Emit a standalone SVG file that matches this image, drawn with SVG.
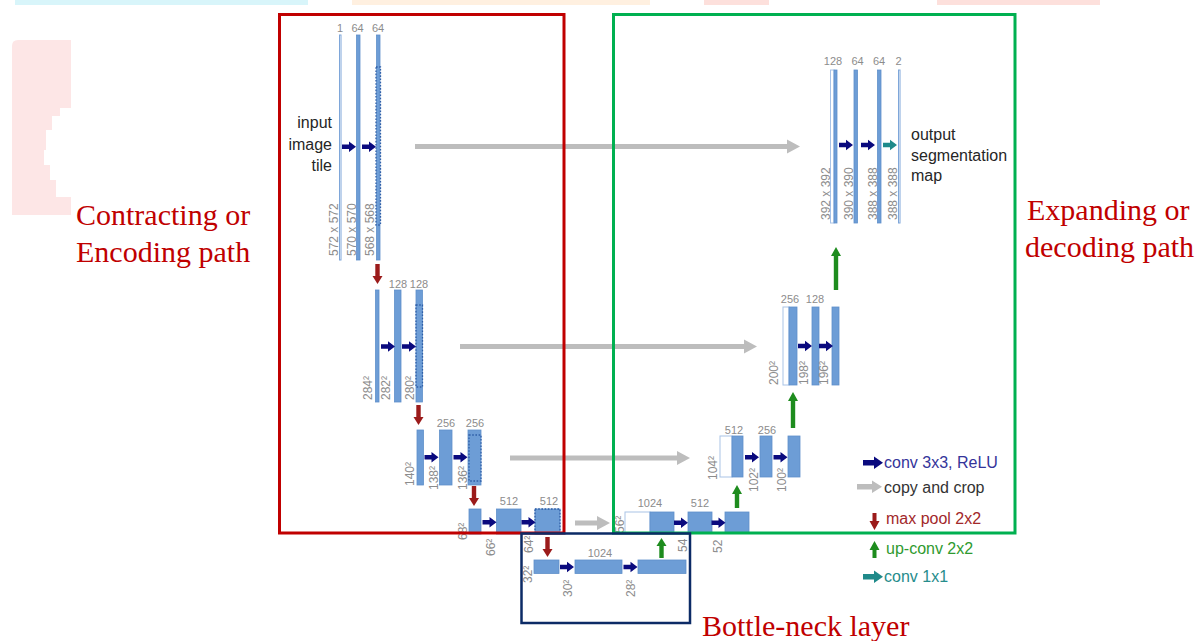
<svg xmlns="http://www.w3.org/2000/svg" xmlns:xlink="http://www.w3.org/1999/xlink" width="1197" height="641" viewBox="0 0 1197 641">
<style>
.bar{fill:#6d9dd6;stroke:#5f8fca;stroke-width:0.8}
.wbar{fill:#ffffff;stroke:#a9c3e6;stroke-width:1}
.thin{fill:#ffffff;stroke:#7ea6d9;stroke-width:1}
.dot{fill:none;stroke:#2f5fa8;stroke-width:1.3;stroke-dasharray:1.6,1.6}
.num{font-family:"Liberation Sans",Arial,sans-serif;font-size:11px;fill:#8c8c8c;text-anchor:middle}
.dim{font-family:"Liberation Sans",Arial,sans-serif;font-size:12px;fill:#8c8c8c}
.lbl{font-family:"Liberation Sans",Arial,sans-serif;font-size:16px;fill:#262626}
.ttl{font-family:"Liberation Serif","Times New Roman",serif;font-size:30px;fill:#c00000}
.leg{font-family:"Liberation Sans",Arial,sans-serif;font-size:16px}
.conv{fill:#0a0a7e}
.c11{fill:#1f8a8a}
.pool{fill:#9b1b1b}
.up{fill:#1e8c1e}
.copy{fill:#bdbdbd}
</style>
<defs>
<path id="ar" d="M0,-2.3 H7 V-5.3 L14,0 L7,5.3 V2.3 H0 Z"/>
<path id="ardn" d="M-2.2,0 V12 H-5 L0,20 L5,12 H2.2 V0 Z"/>
<path id="arup" d="M-2.2,0 V-12 H-5 L0,-20 L5,-12 H2.2 V0 Z"/>
</defs>
<rect width="1197" height="641" fill="#ffffff"/>
<g id="background">
<rect x="15" y="0" width="293" height="5" fill="#d8f5fa"/>
<rect x="352" y="0" width="298" height="5" fill="#fff0e0"/>
<rect x="704" y="0" width="65" height="5" fill="#fde0dc"/>
<rect x="937" y="0" width="163" height="5" fill="#fde0dc"/>
<path d="M12,46 Q12,40 18,40 H71 V108 H60 V116 H52 V130 H46 V150 H44 V165 H50 V180 H56 V197 H71 V215 H12 Z" fill="#fde6e6"/>
</g>
<g id="level1-left">
<rect class="thin" x="339.5" y="35" width="1.5" height="225"/>
<rect class="bar" x="356.5" y="35" width="3.5" height="225"/>
<rect class="bar" x="376.5" y="35" width="3.5" height="225"/>
<rect class="dot" x="376" y="67" width="4.5" height="158"/>
<text class="num" x="340" y="32">1</text>
<text class="num" x="357.5" y="32">64</text>
<text class="num" x="378" y="32">64</text>
<text class="dim" transform="translate(337.5,256) rotate(-90)">572 x 572</text>
<text class="dim" transform="translate(355.5,256) rotate(-90)">570 x 570</text>
<text class="dim" transform="translate(373.5,256) rotate(-90)">568 x 568</text>
<text class="lbl" text-anchor="end" x="332" y="128">input</text>
<text class="lbl" text-anchor="end" x="332" y="150">image</text>
<text class="lbl" text-anchor="end" x="332" y="171">tile</text>
</g>
<g id="level2-left">
<rect class="bar" x="375.5" y="290" width="3.5" height="112"/>
<rect class="bar" x="394.5" y="290" width="6.5" height="112"/>
<rect class="bar" x="416" y="290" width="6.5" height="112"/>
<rect class="dot" x="416" y="305" width="6.5" height="82"/>
<text class="num" x="398" y="288">128</text>
<text class="num" x="419" y="288">128</text>
<text class="dim" transform="translate(372,400) rotate(-90)">284²</text>
<text class="dim" transform="translate(390,400) rotate(-90)">282²</text>
<text class="dim" transform="translate(413.5,400) rotate(-90)">280²</text>
</g>
<g id="level3-left">
<rect class="bar" x="417" y="430" width="6.5" height="55"/>
<rect class="bar" x="439.5" y="430" width="12.5" height="55"/>
<rect class="bar" x="468" y="430" width="13" height="55"/>
<rect class="dot" x="469" y="435" width="12" height="46"/>
<text class="num" x="446" y="427">256</text>
<text class="num" x="475" y="427">256</text>
<text class="dim" transform="translate(413.5,486) rotate(-90)">140²</text>
<text class="dim" transform="translate(438,490) rotate(-90)">138²</text>
<text class="dim" transform="translate(467,490) rotate(-90)">136²</text>
</g>
<g id="level4-left">
<rect class="bar" x="469" y="509" width="12" height="25"/>
<rect class="bar" x="496.5" y="509" width="24.5" height="25"/>
<rect class="bar" x="535" y="509" width="25" height="25"/>
<rect class="dot" x="535" y="509" width="25" height="24"/>
<text class="num" x="509" y="505">512</text>
<text class="num" x="549" y="505">512</text>
<text class="dim" transform="translate(467,540) rotate(-90)">68²</text>
<text class="dim" transform="translate(495,556) rotate(-90)">66²</text>
<text class="dim" transform="translate(533,553) rotate(-90)">64²</text>
</g>
<g id="bottleneck">
<rect class="bar" x="534" y="560" width="25" height="13.5"/>
<rect class="bar" x="575" y="560" width="47" height="13.5"/>
<rect class="bar" x="638" y="560" width="48" height="13.5"/>
<text class="num" x="600" y="557">1024</text>
<text class="dim" transform="translate(532,583) rotate(-90)">32²</text>
<text class="dim" transform="translate(572,597) rotate(-90)">30²</text>
<text class="dim" transform="translate(635,597) rotate(-90)">28²</text>
</g>
<g id="level4-right">
<rect class="wbar" x="625" y="512" width="25" height="21"/>
<rect class="bar" x="650" y="512" width="24" height="21"/>
<rect class="bar" x="688" y="512" width="24" height="21"/>
<rect class="bar" x="725" y="512" width="24" height="21"/>
<text class="num" x="650" y="507">1024</text>
<text class="num" x="700" y="507">512</text>
<text class="dim" transform="translate(623.5,533) rotate(-90)">56²</text>
<text class="dim" transform="translate(687,552) rotate(-90)">54</text>
<text class="dim" transform="translate(722,553) rotate(-90)">52</text>
</g>
<g id="level3-right">
<rect class="wbar" x="720" y="436" width="12" height="41"/>
<rect class="bar" x="732" y="436" width="11" height="41"/>
<rect class="bar" x="760" y="436" width="12" height="41"/>
<rect class="bar" x="788" y="436" width="12" height="41"/>
<text class="num" x="734" y="434">512</text>
<text class="num" x="767" y="434">256</text>
<text class="dim" transform="translate(717,480) rotate(-90)">104²</text>
<text class="dim" transform="translate(758,492) rotate(-90)">102²</text>
<text class="dim" transform="translate(786,492) rotate(-90)">100²</text>
</g>
<g id="level2-right">
<rect class="wbar" x="783" y="307" width="6" height="78"/>
<rect class="bar" x="789" y="307" width="8" height="78"/>
<rect class="bar" x="812" y="307" width="7" height="78"/>
<rect class="bar" x="832" y="307" width="7" height="78"/>
<text class="num" x="790" y="303">256</text>
<text class="num" x="815" y="303">128</text>
<text class="dim" transform="translate(778,385) rotate(-90)">200²</text>
<text class="dim" transform="translate(808,385) rotate(-90)">198²</text>
<text class="dim" transform="translate(828,385) rotate(-90)">196²</text>
</g>
<g id="level1-right">
<rect class="wbar" x="830.5" y="70" width="3.5" height="153"/>
<rect class="bar" x="834" y="70" width="3" height="153"/>
<rect class="bar" x="854" y="70" width="3.5" height="153"/>
<rect class="bar" x="877.5" y="70" width="3.5" height="153"/>
<rect class="thin" x="898.5" y="70" width="1.5" height="153"/>
<text class="num" x="833" y="65">128</text>
<text class="num" x="857.5" y="65">64</text>
<text class="num" x="879" y="65">64</text>
<text class="num" x="898.5" y="65">2</text>
<text class="dim" transform="translate(830,220) rotate(-90)">392 x 392</text>
<text class="dim" transform="translate(853,220) rotate(-90)">390 x 390</text>
<text class="dim" transform="translate(877,220) rotate(-90)">388 x 388</text>
<text class="dim" transform="translate(897,220) rotate(-90)">388 x 388</text>
<text class="lbl" x="911" y="140">output</text>
<text class="lbl" x="911" y="161">segmentation</text>
<text class="lbl" x="911" y="181">map</text>
</g>
<g id="connectors">
<path class="copy" d="M415,144 H787 V139.5 L800,146.5 L787,153.5 V149 H415 Z"/>
<path class="copy" d="M460,344 H744 V339.5 L757,346.5 L744,353.5 V349 H460 Z"/>
<path class="copy" d="M510,455.5 H677 V451 L690,458 L677,465 V460.5 H510 Z"/>
<path class="copy" d="M575,520.5 H597 V516 L610,523 L597,530 V525.5 H575 Z"/>
<use class="conv" href="#ar" x="342" y="146.7"/>
<use class="conv" href="#ar" x="362" y="146.7"/>
<use class="conv" href="#ar" x="381" y="346.5"/>
<use class="conv" href="#ar" x="402" y="346.5"/>
<use class="conv" href="#ar" x="424.5" y="457.3"/>
<use class="conv" href="#ar" x="453.5" y="457.3"/>
<use class="conv" href="#ar" x="482.5" y="522.3"/>
<use class="conv" href="#ar" x="521.5" y="522.3"/>
<use class="conv" href="#ar" x="560" y="567"/>
<use class="conv" href="#ar" x="623.5" y="567"/>
<use class="conv" href="#ar" x="674" y="522.7"/>
<use class="conv" href="#ar" x="711.5" y="522.7"/>
<use class="conv" href="#ar" x="745" y="457.3"/>
<use class="conv" href="#ar" x="773.5" y="457.3"/>
<use class="conv" href="#ar" x="798" y="346"/>
<use class="conv" href="#ar" x="819" y="346"/>
<use class="conv" href="#ar" x="839" y="145"/>
<use class="conv" href="#ar" x="861" y="145"/>
<use class="c11" href="#ar" x="883" y="145"/>
<use class="pool" href="#ardn" x="377.5" y="264"/>
<use class="pool" href="#ardn" x="418.5" y="405"/>
<use class="pool" href="#ardn" x="474" y="486"/>
<use class="pool" href="#ardn" x="547.5" y="537"/>
<use class="up" href="#arup" x="661.5" y="558"/>
<path class="up" d="M734.8,508 V494 H732 L737,485 L742,494 H739.2 V508 Z"/>
<path class="up" d="M790.8,428 V401 H788 L793,392 L798,401 H795.2 V428 Z"/>
<path class="up" d="M833.8,290 V256 H831 L836,247 L841,256 H838.2 V290 Z"/>
</g>
<g id="frames" fill="none">
<rect x="279.5" y="14.5" width="284.5" height="518.5" stroke="#c00000" stroke-width="3"/>
<rect x="613.5" y="14.5" width="401.5" height="518.5" stroke="#00b050" stroke-width="3"/>
<rect x="521.5" y="533.5" width="168.5" height="89.5" stroke="#0c2b66" stroke-width="2.5"/>
</g>
<g id="titles">
<text class="ttl" x="76" y="225">Contracting or</text>
<text class="ttl" x="76" y="262">Encoding path</text>
<text class="ttl" x="1027" y="220">Expanding or</text>
<text class="ttl" x="1025" y="257">decoding path</text>
<text class="ttl" x="702" y="636">Bottle-neck layer</text>
</g>
<g id="legend">
<path class="conv" d="M863,460 H874 V456.5 L883,462.7 L874,469 V465.5 H863 Z"/>
<text class="leg" x="884" y="468" fill="#34349a">conv 3x3, ReLU</text>
<path class="copy" d="M857,484 H872 V480.5 L882,486.7 L872,493 V489.5 H857 Z"/>
<text class="leg" x="884" y="493" fill="#333333">copy and crop</text>
<path class="pool" d="M872.5,513 V521 H869.5 L874.5,530 L879.5,521 H876.5 V513 Z"/>
<text class="leg" x="886" y="524" fill="#a2282a">max pool 2x2</text>
<path class="up" d="M872.5,558 V550 H869.5 L874.5,541 L879.5,550 H876.5 V558 Z"/>
<text class="leg" x="886" y="554" fill="#2f9a2f">up-conv 2x2</text>
<path class="c11" d="M863,574 H874 V570.5 L883,576.7 L874,583 V579.5 H863 Z"/>
<text class="leg" x="884" y="582" fill="#268c8c">conv 1x1</text>
</g>
</svg>
